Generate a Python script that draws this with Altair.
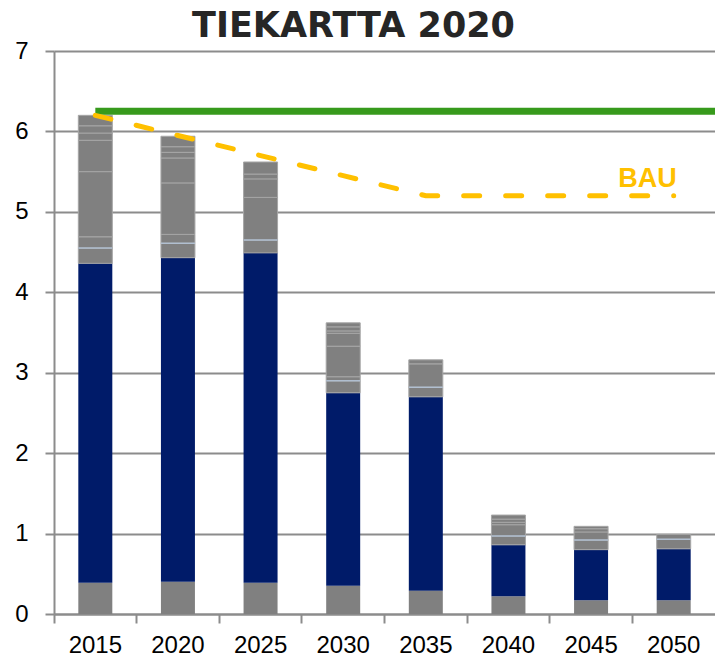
import altair as alt
import pandas as pd

years = ["2015", "2020", "2025", "2030", "2035", "2040", "2045", "2050"]
base_top = [0.39, 0.40, 0.39, 0.35, 0.29, 0.22, 0.17, 0.17]
navy_top = [4.36, 4.43, 4.49, 2.75, 2.70, 0.86, 0.80, 0.81]
blue_line = [4.55, 4.61, 4.65, 2.90, 2.82, 0.97, 0.92, 0.93]
upper_lines = [
    [4.69, 5.50, 5.89, 5.98, 6.07],
    [4.72, 5.36, 5.67, 5.74, 5.81],
    [5.18, 5.41, 5.47],
    [2.95, 3.33, 3.49, 3.52, 3.57],
    [3.11],
    [1.11, 1.14, 1.18],
    [1.02, 1.06],
    [],
]
totals = [6.20, 5.94, 5.62, 3.62, 3.16, 1.23, 1.09, 0.99]
bau = [6.20, 5.95, 5.70, 5.45, 5.20, 5.20, 5.20, 5.20]
green_start = "2015"
green_level = 6.25

GRAY = "#808080"
NAVY = "#001b69"
AXIS_GRAY = "#8c8c8c"

rows = []
for i, yr in enumerate(years):
    rows.append({"year": yr, "lo": 0.0, "hi": base_top[i], "kind": "base"})
    rows.append({"year": yr, "lo": base_top[i], "hi": navy_top[i], "kind": "navy"})
    bounds = [navy_top[i], blue_line[i]] + upper_lines[i] + [totals[i]]
    for a, b in zip(bounds[:-1], bounds[1:]):
        rows.append({"year": yr, "lo": a, "hi": b, "kind": "upper"})
seg = pd.DataFrame(rows)
blue_df = pd.DataFrame({"year": years, "v": blue_line})
bau_df = pd.DataFrame({"year": years, "v": bau})
green_df = pd.DataFrame({"year": [green_start], "v": [green_level]})
label_df = pd.DataFrame({"year": [years[-1]], "v": [bau[-1]], "t": ["BAU"]})

xenc = alt.X("year:N", sort=years, title=None,
             scale=alt.Scale(domain=years, paddingInner=0, paddingOuter=0),
             axis=alt.Axis(labelAngle=0, bandPosition=0, grid=False))
yscale = alt.Scale(domain=[0, 7], nice=False)
yenc = alt.Y("lo:Q", scale=yscale, title=None,
             axis=alt.Axis(values=[0, 1, 2, 3, 4, 5, 6, 7], format="d", grid=True))

solid = alt.Chart(seg).transform_filter(alt.datum.kind != "upper").mark_bar(size=34).encode(
    x=xenc,
    y=yenc,
    y2="hi:Q",
    color=alt.Color("kind:N", scale=alt.Scale(domain=["base", "navy"], range=[GRAY, NAVY]), legend=None),
)
upper = alt.Chart(seg).transform_filter(alt.datum.kind == "upper").mark_bar(
    size=34, color=GRAY, stroke="#a6a6a6", strokeWidth=1
).encode(x="year:N", y=alt.Y("lo:Q", scale=yscale), y2="hi:Q")

blue = alt.Chart(blue_df).mark_tick(orient="horizontal", size=34, thickness=1.5, color="#b8cce4").encode(
    x="year:N", y=alt.Y("v:Q", scale=yscale)
)

green = alt.Chart(green_df).mark_rule(strokeWidth=7, color="#379a1c").encode(
    x="year:N", x2=alt.value("width"), y=alt.Y("v:Q", scale=yscale)
)

bau_line = alt.Chart(bau_df).mark_line(
    color="#ffc000", strokeWidth=5, strokeDash=[16, 26], strokeCap="round"
).encode(x="year:N", y=alt.Y("v:Q", scale=yscale))

bau_text = alt.Chart(label_df).mark_text(
    color="#ffc000", font="Liberation Sans", fontWeight="bold", fontSize=27,
    align="right", baseline="alphabetic", dx=3, dy=-9
).encode(x="year:N", y=alt.Y("v:Q", scale=yscale), text="t:N")

chart = alt.layer(solid, upper, blue, green, bau_line, bau_text).properties(
    width=661,
    height=563,
    autosize=alt.AutoSizeParams(type="none"),
    padding={"left": 54, "top": 51, "right": 0, "bottom": 43},
    title=alt.TitleParams(
        "TIEKARTTA 2020", font="DejaVu Sans", fontSize=35, fontWeight="bold",
        color="#262626", anchor="middle", dx=-31, dy=17, offset=12
    ),
).configure_view(stroke=None).configure_axis(
    domainColor=AXIS_GRAY, domainWidth=2, tickColor=AXIS_GRAY, tickWidth=2, tickSize=9,
    labelFont="Liberation Sans", labelFontSize=24, labelColor="#000000",
    gridColor=AXIS_GRAY, gridWidth=2,
).configure_axisX(labelPadding=10).configure_axisY(labelPadding=17)

chart.save("out.html", embed_options={"renderer": "svg", "actions": False})
